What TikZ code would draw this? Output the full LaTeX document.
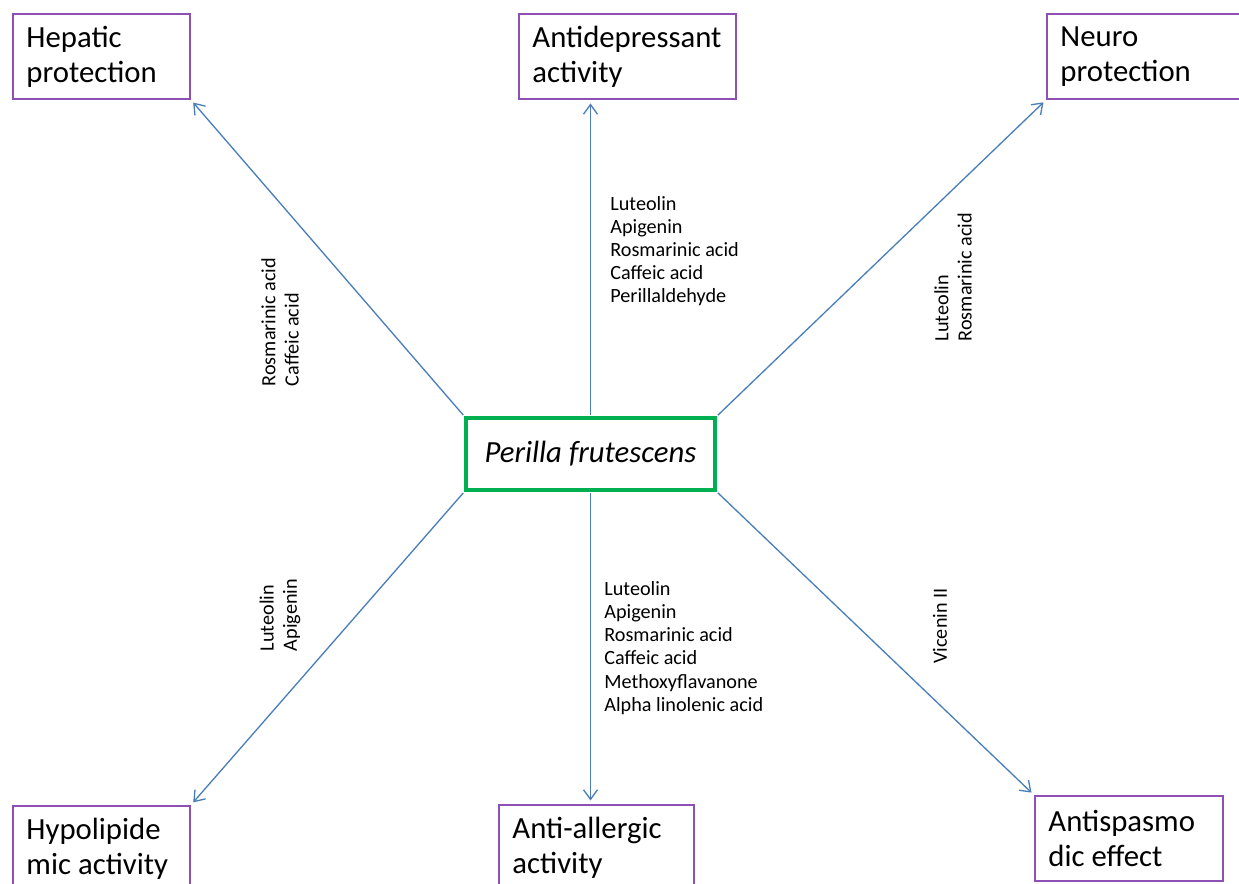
\documentclass[tikz,border=0pt]{standalone}
\usepackage{fontspec}
\setmainfont{Carlito}
\usetikzlibrary{arrows.meta}

\definecolor{boxpurple}{RGB}{142,80,180}
\definecolor{plantgreen}{RGB}{0,176,80}
\definecolor{arrowblue}{RGB}{74,126,187}

\begin{document}
\begin{tikzpicture}[x=0.02cm, y=-0.02cm,
    effect/.style={draw=boxpurple, line width=1.1pt, anchor=north west, align=flush left,
                   inner xsep=0.27cm, minimum height=1.7cm,
                   font=\fontsize{17.5}{20}\selectfont},
    plant/.style={draw=plantgreen, line width=1.8pt, minimum width=4.98cm,
                  minimum height=1.44cm, font=\fontsize{17.5}{20}\selectfont\itshape},
    arr/.style={arrowblue, line width=0.75pt, -{Straight Barb[length=5.5pt, width=8pt]},
                shorten >=2pt, shorten <=1pt},
    cmpd/.style={align=flush left, inner sep=0pt, font=\fontsize{11.5}{13.2}\selectfont}]
      \useasboundingbox (0,0) rectangle (1239,883);

      % Centre
      \node[plant] (perilla) at (590.5,454) {Perilla frutescens};

      % Effects, top row
      \node[effect, text width=3.0cm] (hepatic) at (12,13)   {Hepatic\\protection};
      \node[effect, text width=3.8cm] (antidep) at (518,13)  {Antidepressant\\activity};
      \node[effect, text width=3.6cm] (neuro)   at (1046,13) {Neuro\\protection};

      % Effects, bottom row
      \node[effect, text width=3.0cm] (hypolip) at (12,805)   {Hypolipide\\mic activity};
      \node[effect, text width=3.36cm] (allergy) at (498,804) {Anti-allergic\\activity};
      \node[effect, text width=3.22cm] (spasmo)  at (1034,795) {Antispasmo\\dic effect};

      % Arrows
      \draw[arr] (perilla.north west) -- (hepatic.south east);
      \draw[arr] (perilla.north) -- (perilla.north |- antidep.south);
      \draw[arr] (perilla.north east) -- (neuro.south west);
      \draw[arr] (perilla.south west) -- (hypolip.north east);
      \draw[arr] (perilla.south) -- (perilla.south |- allergy.north);
      \draw[arr] (perilla.south east) -- (spasmo.north west);

      % Compounds
      \node[cmpd, rotate=90] (hepcmpd) at (280,322) {Rosmarinic acid\\Caffeic acid};
      \node[cmpd, anchor=west] (depcmpd) at (610,251)
        {Luteolin\\Apigenin\\Rosmarinic acid\\Caffeic acid\\Perillaldehyde};
      \node[cmpd, rotate=90] (neucmpd) at (953,277) {Luteolin\\Rosmarinic acid};
      \node[cmpd, rotate=90] (hypcmpd) at (280,615) {Luteolin\\Apigenin};
      \node[cmpd, anchor=west] (allcmpd) at (604,648)
        {Luteolin\\Apigenin\\Rosmarinic acid\\Caffeic acid\\Methoxyflavanone\\Alpha linolenic acid};
      \node[cmpd, rotate=90] (spacmpd) at (940,626) {Vicenin II};
\end{tikzpicture}
\end{document}
